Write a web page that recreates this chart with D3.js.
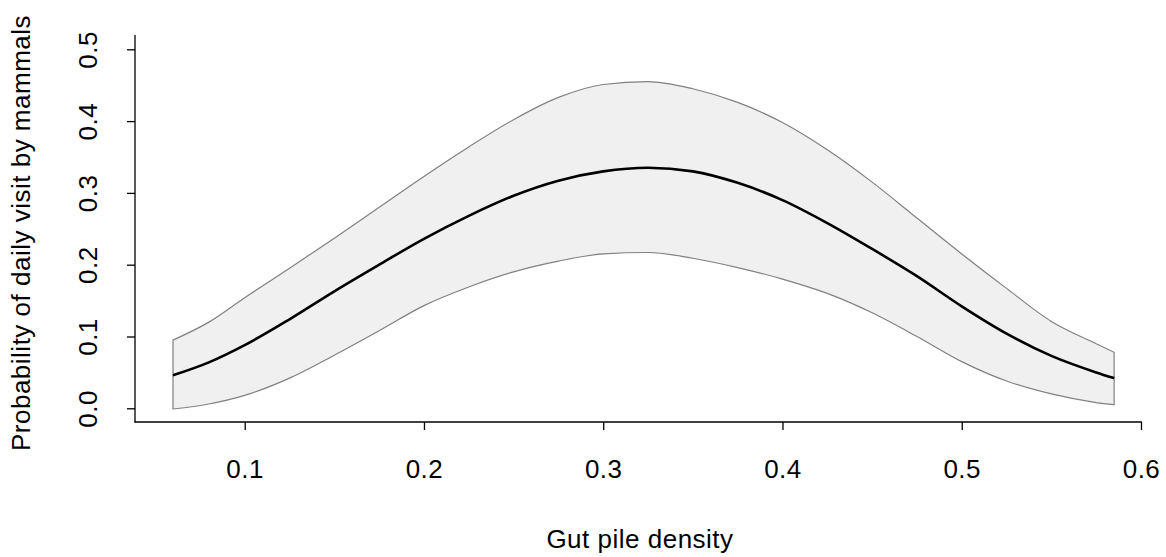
<!DOCTYPE html>
<html>
<head>
<meta charset="utf-8">
<script src="https://cdn.jsdelivr.net/npm/d3@7"></script>
<style>
  body { margin: 0; background: #fff; }
  text { font-family: "Liberation Sans", Arial, sans-serif; letter-spacing: 0.5px; }
</style>
</head>
<body>
<script>
// Gut pile density values the curves were read at
const density = [0.06, 0.08, 0.10, 0.125, 0.15, 0.175, 0.2, 0.225, 0.25, 0.275, 0.3,
  0.325, 0.35, 0.375, 0.4, 0.425, 0.45, 0.475, 0.5, 0.525, 0.55, 0.575, 0.585];
// fitted probability
const fitted = [0.046, 0.064, 0.088, 0.124, 0.163, 0.200, 0.236, 0.268, 0.296, 0.317, 0.330,
  0.335, 0.330, 0.314, 0.290, 0.258, 0.222, 0.184, 0.142, 0.104, 0.073, 0.050, 0.042];
// confidence band
const upper = [0.095, 0.120, 0.154, 0.195, 0.237, 0.280, 0.323, 0.364, 0.402, 0.433, 0.451,
  0.455, 0.445, 0.426, 0.398, 0.360, 0.315, 0.265, 0.215, 0.167, 0.121, 0.090, 0.078];
const lower = [-0.001, 0.006, 0.018, 0.042, 0.074, 0.108, 0.143, 0.169, 0.190, 0.205, 0.215,
  0.217, 0.209, 0.196, 0.180, 0.160, 0.133, 0.100, 0.065, 0.038, 0.020, 0.008, 0.005];

const xTicks = [0.1, 0.2, 0.3, 0.4, 0.5, 0.6];
const yTicks = [0.0, 0.1, 0.2, 0.3, 0.4, 0.5];

const width = 1166, height = 557;
const fontSize = 26;

const svg = d3.select("body").append("svg")
  .attr("width", width)
  .attr("height", height);

const x = d3.scaleLinear().domain([0.1, 0.6]).range([244.7, 1141]);
const y = d3.scaleLinear().domain([0, 0.5]).range([408.3, 49.3]);

const rows = density.map((d, i) => ({ x: d, m: fitted[i], lo: lower[i], hi: upper[i] }));

// confidence band, area stroke gives the vertical end edges too
svg.append("path")
  .datum(rows)
  .attr("d", d3.area().x(d => x(d.x)).y0(d => y(d.lo)).y1(d => y(d.hi)).curve(d3.curveMonotoneX))
  .attr("fill", "#f0f0f0")
  .attr("stroke", "#808080")
  .attr("stroke-width", 1.2);

svg.append("path")
  .datum(rows)
  .attr("d", d3.line().x(d => x(d.x)).y(d => y(d.m)).curve(d3.curveMonotoneX))
  .attr("fill", "none")
  .attr("stroke", "#000")
  .attr("stroke-width", 2.6);

// axes (L-shaped box)
svg.append("line")
  .attr("x1", 135).attr("x2", 135).attr("y1", 35).attr("y2", 422.5)
  .attr("stroke", "#000").attr("stroke-width", 1.3);
svg.append("line")
  .attr("x1", 134.5).attr("x2", 1142).attr("y1", 422).attr("y2", 422)
  .attr("stroke", "#000").attr("stroke-width", 1.3);

const xAxis = svg.append("g")
  .attr("transform", "translate(0,422)")
  .call(d3.axisBottom(x).tickValues(xTicks).tickSize(8).tickFormat(d3.format(".1f")));
xAxis.select(".domain").remove();
xAxis.selectAll("line").attr("stroke-width", 1.3);
xAxis.selectAll("text")
  .attr("y", 56).attr("dy", null)
  .style("font-size", fontSize + "px")
  .attr("fill", "#000");

const yAxis = svg.append("g")
  .attr("transform", "translate(135,0)")
  .call(d3.axisLeft(y).tickValues(yTicks).tickSize(8).tickFormat(d3.format(".1f")));
yAxis.select(".domain").remove();
yAxis.selectAll("line").attr("stroke-width", 1.3);
yAxis.selectAll("text")
  .attr("transform", "rotate(-90)")
  .attr("x", 0).attr("y", -38).attr("dy", null)
  .attr("text-anchor", "middle")
  .style("font-size", fontSize + "px")
  .attr("fill", "#000");

// titles
svg.append("text")
  .attr("x", 640).attr("y", 548)
  .attr("text-anchor", "middle")
  .style("font-size", fontSize + "px")
  .text("Gut pile density");

svg.append("text")
  .attr("transform", "translate(30,233) rotate(-90)")
  .attr("text-anchor", "middle")
  .style("font-size", fontSize + "px")
  .text("Probability of daily visit by mammals");
</script>
</body>
</html>
